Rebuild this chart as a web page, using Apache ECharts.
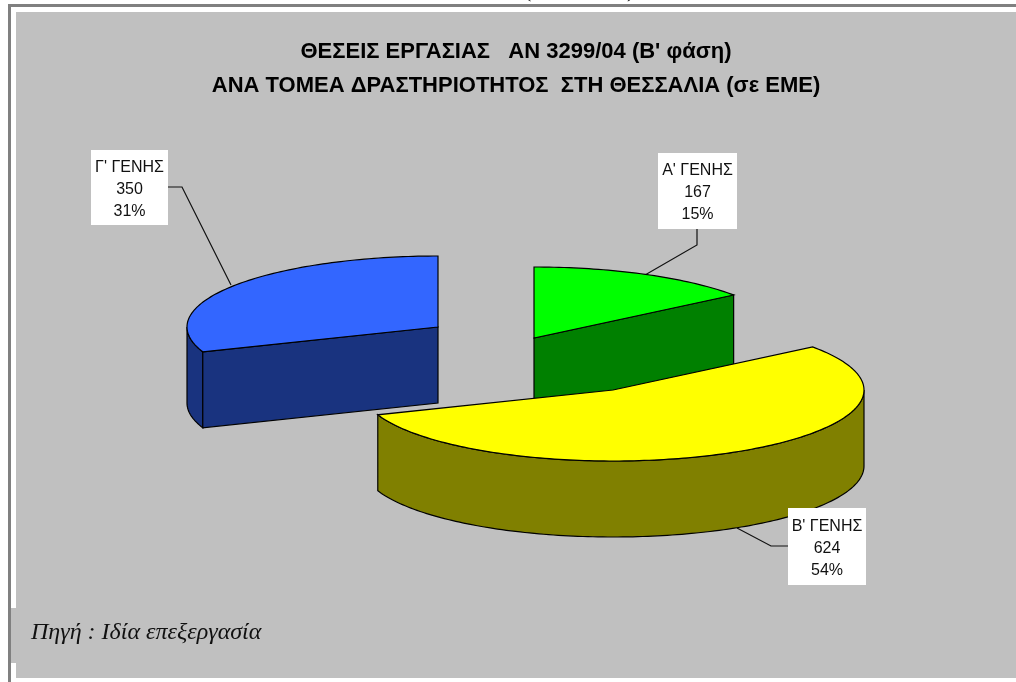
<!DOCTYPE html>
<html><head><meta charset="utf-8">
<style>html,body{margin:0;padding:0;background:#fff;overflow:hidden}#c{width:1016px;height:682px}</style>
<script src="https://cdn.jsdelivr.net/npm/echarts@6/dist/echarts.min.js"></script>
</head><body><div id="c"></div>
<script>
const categories = ["Α' ΓΕΝΗΣ", "Β' ΓΕΝΗΣ", "Γ' ΓΕΝΗΣ"];
const values = [167, 624, 350];
const percentLabels = ["15%", "54%", "31%"];
const titleLines = ["ΘΕΣΕΙΣ ΕΡΓΑΣΙΑΣ   ΑΝ 3299/04 (Β' φάση)", "ΑΝΑ ΤΟΜΕΑ ΔΡΑΣΤΗΡΙΟΤΗΤΟΣ  ΣΤΗ ΘΕΣΣΑΛΙΑ (σε ΕΜΕ)"];
const sourceNote = "Πηγή : Ιδία επεξεργασία";

// layout / style, separate from the data
const RX = 251, RY = 71, DEPTH = 76;
const apex = [[534, 338], [613, 390], [438, 327]];
const topColors = ['#00FF00', '#FFFF00', '#3366FF'];
const sideColors = ['#008000', '#808000', '#19337F'];
const labelBox = [[658, 153, 79, 76], [788, 508, 78, 77], [91, 150, 77, 75]];
const leaders = [
  [[697, 229], [697, 245], [645, 275]],
  [[788, 546], [771, 546], [737, 528]],
  [[168, 187], [182, 187], [231, 285]]
];
const drawOrder = [2, 0, 1];
const total = values.reduce((a, b) => a + b, 0);
const starts = [];
values.reduce((acc, v, i) => { starts[i] = acc; return acc + v / total * 2 * Math.PI; }, 0);

function pt(c, th, dy) { return [c[0] + RX * Math.sin(th), c[1] - RY * Math.cos(th) + (dy || 0)]; }
function arc(c, a, b, dy) {
  const n = Math.max(2, Math.ceil(Math.abs(b - a) / 0.02)), out = [];
  for (let i = 0; i <= n; i++) out.push(pt(c, a + (b - a) * i / n, dy));
  return out;
}
const EDGE = { stroke: '#000', lineWidth: 1.2 };

function renderItem(params, api) {
  const i = api.value(0);
  const c = apex[i], a0 = starts[i], a1 = a0 + api.value(1) / total * 2 * Math.PI;
  const kids = [];
  kids.push({ type: 'polyline', shape: { points: leaders[i] }, style: { stroke: '#111', lineWidth: 1.2, fill: null } });
  // outer wall: the visible front part of the rim
  const wa = Math.max(a0, Math.PI / 2), wb = Math.min(a1, Math.PI * 1.5);
  if (wb > wa) {
    const t = arc(c, wa, wb, 0), bt = arc(c, wa, wb, DEPTH).reverse();
    kids.push({ type: 'polygon', shape: { points: t.concat(bt) }, style: Object.assign({ fill: sideColors[i] }, EDGE) });
  }
  // cut faces that look towards the viewer
  const e0 = pt(c, a0, 0), e1 = pt(c, a1, 0);
  if (i === 0) {
    kids.push({ type: 'polygon', shape: { points: [c, e1, [e1[0], e1[1] + DEPTH], [c[0], c[1] + DEPTH]] }, style: Object.assign({ fill: sideColors[i] }, EDGE) });
  }
  if (i === 2) {
    kids.push({ type: 'polygon', shape: { points: [c, e0, [e0[0], e0[1] + DEPTH], [c[0], c[1] + DEPTH]] }, style: Object.assign({ fill: sideColors[i] }, EDGE) });
  }
  // top surface
  kids.push({ type: 'polygon', shape: { points: [c].concat(arc(c, a0, a1, 0)) }, style: Object.assign({ fill: topColors[i] }, EDGE) });
  // label box
  const b = labelBox[i];
  kids.push({ type: 'rect', shape: { x: b[0], y: b[1], width: b[2], height: b[3] }, style: { fill: '#fff' } });
  kids.push({
    type: 'text', style: {
      x: b[0] + b[2] / 2, y: b[1] + b[3] / 2 + 2, align: 'center', verticalAlign: 'middle',
      text: categories[i] + '\n' + values[i] + '\n' + percentLabels[i],
      fontFamily: '"Liberation Sans", Arial, sans-serif', fontSize: 16, lineHeight: 22, fill: '#111'
    }
  });
  return { type: 'group', children: kids };
}

const rect = (x, y, w, h, fill) => ({ type: 'rect', silent: true, z: -10, shape: { x, y, width: w, height: h }, style: { fill } });
const serifText = (t, left, top, size, style) => ({ type: 'text', left, top, style: { text: t, fontFamily: '"Liberation Serif", "Times New Roman", serif', fontStyle: style, fontSize: size, fill: '#111' } });

const chart = echarts.init(document.getElementById('c'), null, { renderer: 'canvas' });
chart.setOption({
  animation: false,
  backgroundColor: '#fff',
  title: {
    text: titleLines.join('\n'), left: 511, top: 30, textAlign: 'center',
    textStyle: { fontFamily: '"Liberation Sans", Arial, sans-serif', fontWeight: 'bold', fontSize: 22, lineHeight: 34, color: '#000' }
  },
  graphic: [
    rect(8, 4, 1008, 3, '#808080'),
    rect(8, 4, 3, 678, '#808080'),
    rect(16, 12, 1000, 666, '#C0C0C0'),
    rect(11, 608, 5, 55, '#C0C0C0'),
    serifText(sourceNote, 31, 621, 24, 'italic'),
    serifText('(', 524, -20, 22, 'normal'),
    serifText(')', 627, -20, 22, 'normal')
  ],
  series: [{
    type: 'custom', coordinateSystem: 'none', renderItem,
    data: drawOrder.map(i => [i, values[i]])
  }]
});
</script></body></html>
